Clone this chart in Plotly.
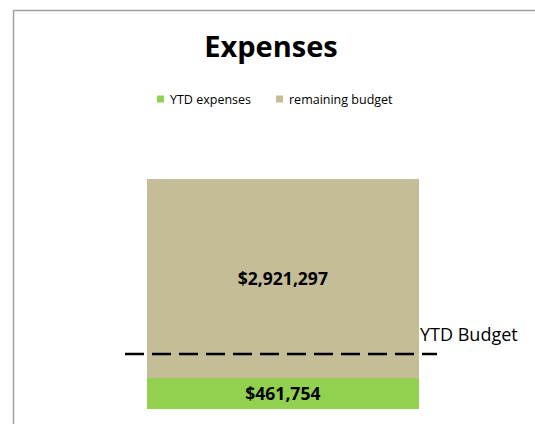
import plotly.graph_objects as go

# ---- data ----
categories = ["Expenses"]
ytd_expenses = [461754]
remaining_budget = [2921297]
ytd_budget = 810000
series_names = ["YTD expenses", "remaining budget"]

W, H = 535, 424
# plot area in screen pixels: x 125..437, y 137..409
ML = 125
MR = W - 437
MT = 137
MB = H - 409
PW, PH = W - ML - MR, H - MT - MB

def px2x(sx):
    return (sx - ML) / PW

def py2y(sy):
    return (H - MB - sy) / PH

FONT = "Open Sans"
GREEN = "#92D050"
TAN = "#C4BD97"
colors = [GREEN, TAN]

fig = go.Figure()
for name, vals, col in zip(series_names, [ytd_expenses, remaining_budget], colors):
    fig.add_trace(go.Bar(
        x=[0], y=vals, name=name, marker_color=col,
        marker_line_width=0, width=0.872,
        text=vals, texttemplate="<b>$%{y:,.0f}</b>", textposition="inside",
        insidetextanchor="middle", textangle=0,
        textfont=dict(family=FONT, size=17.5, color="#000000"),
        hoverinfo="skip", showlegend=False,
    ))

shapes = [
    # dashed YTD budget line
    dict(type="line", xref="paper", yref="y", x0=0, x1=1, y0=ytd_budget, y1=ytd_budget,
         line=dict(color="#000000", width=2.5, dash="19px,8px"), layer="above"),
    # chart frame (top and left edges visible)
    dict(type="line", xref="paper", yref="paper", x0=px2x(13.5), x1=px2x(560),
         y0=py2y(10.5), y1=py2y(10.5), line=dict(color="#A0A0A0", width=1.5)),
    dict(type="line", xref="paper", yref="paper", x0=px2x(13.5), x1=px2x(13.5),
         y0=py2y(10.5), y1=py2y(450), line=dict(color="#A0A0A0", width=1.5)),
]

annotations = [dict(text="YTD Budget", xref="paper", yref="y", x=px2x(418),
                    y=ytd_budget, xanchor="left", yanchor="middle", yshift=20,
                    showarrow=False, font=dict(family=FONT, size=18, color="#000000"))]

# legend (compact squares like the original)
legend_x = [157, 276]
for sx, name, col in zip(legend_x, series_names, colors):
    shapes.append(dict(type="rect", xref="paper", yref="paper",
                       x0=px2x(sx), x1=px2x(sx + 7), y0=py2y(95.5), y1=py2y(102.5),
                       fillcolor=col, line=dict(width=0)))
    annotations.append(dict(text=name, xref="paper", yref="paper", x=px2x(sx + 11),
                            y=py2y(99), xanchor="left", yanchor="middle",
                            showarrow=False,
                            font=dict(family=FONT, size=12.5, color="#000000")))

fig.update_layout(
    width=W, height=H,
    margin=dict(l=ML, r=MR, t=MT, b=MB, pad=0),
    paper_bgcolor="white", plot_bgcolor="white",
    barmode="stack",
    font=dict(family=FONT, color="#000000"),
    title=dict(text="<b>Expenses</b>", x=271 / W, xanchor="center",
               y=1 - 47 / H, yanchor="middle",
               font=dict(family=FONT, size=29, color="#000000")),
    xaxis=dict(range=[-0.506, 0.494], visible=False, fixedrange=True),
    yaxis=dict(range=[0, 4000000], visible=False, fixedrange=True),
    uniformtext=dict(mode="show", minsize=8),
    shapes=shapes,
    annotations=annotations,
    showlegend=False,
)

fig.write_html(
    "out.html",
    config={"displayModeBar": False},
    post_script="document.body.style.margin='0';document.body.style.overflow='hidden';",
)
